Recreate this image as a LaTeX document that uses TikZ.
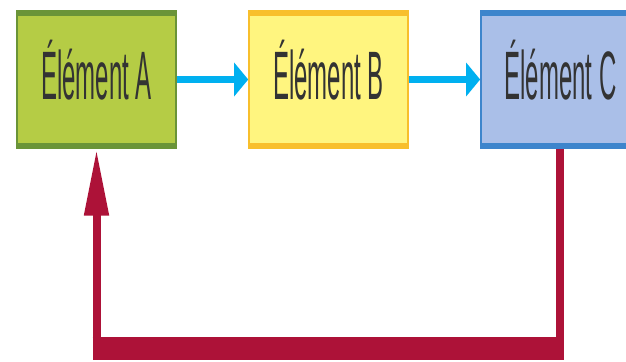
\documentclass[tikz,border=0pt]{standalone}
\usepackage{fontspec}
\setmainfont{Liberation Sans}
\usetikzlibrary{positioning,arrows.meta}
\definecolor{greenfill}{HTML}{B5CC45}
\definecolor{greenline}{HTML}{6A9438}
\definecolor{yellowfill}{HTML}{FFF57F}
\definecolor{yellowline}{HTML}{F8BF2C}
\definecolor{bluefill}{HTML}{AABFE8}
\definecolor{blueline}{HTML}{3D85CC}
\definecolor{flowblue}{HTML}{00B0F0}
\definecolor{loopred}{HTML}{AD1238}
\newcommand{\narrow}[1]{\scalebox{0.35}[1]{#1}}
\tikzset{
  elem/.style  = {shape=rectangle, draw, line width=0.03cm,
                  minimum width=3.18cm, minimum height=2.74cm, inner sep=0pt,
                  text height=0.79cm, text depth=0pt,
                  font=\fontsize{39}{39}\selectfont, text=black!80,
                  path picture={
                    \draw[line width=0.18cm, #1]
                      (path picture bounding box.north west) -- (path picture bounding box.north east)
                      (path picture bounding box.south west) -- (path picture bounding box.south east);}},
  elemA/.style = {elem=greenline, fill=greenfill, draw=greenline},
  elemB/.style = {elem=yellowline, fill=yellowfill, draw=yellowline},
  elemC/.style = {elem=blueline, fill=bluefill, draw=blueline},
  flow/.style  = {draw=flowblue, line width=0.14cm,
                  -{Triangle[length=0.28cm, width=0.66cm]}},
  loop/.style  = {draw=loopred, line width=0.16cm,
                  -{Triangle[length=1.34cm, width=0.46cm]}}
}
\begin{document}
\begin{tikzpicture}[x=0.02cm, y=-0.02cm, node distance=1.43cm]
  \useasboundingbox (0,0) rectangle (626,362);
  \node [elemA] (A) at (96.5,79.5) {\narrow{Élément A}};
  \node [elemB, right=of A] (B) {\narrow{Élément B}};
  \node [elemC, right=of B] (C) {\narrow{Élément C}};
  \draw [flow] (A) -- (B);
  \draw [flow] (B) -- (C);
  % feedback from C back to A
  \coordinate (bottom) at (300,356);
  \draw [loop] (C.south) |- (bottom) -| (A.south);
  \draw [draw=loopred, line width=0.46cm]
    ([xshift=-0.08cm]A.south |- 0,348.5) -- ([xshift=0.08cm]C.south |- 0,348.5);
\end{tikzpicture}
\end{document}
